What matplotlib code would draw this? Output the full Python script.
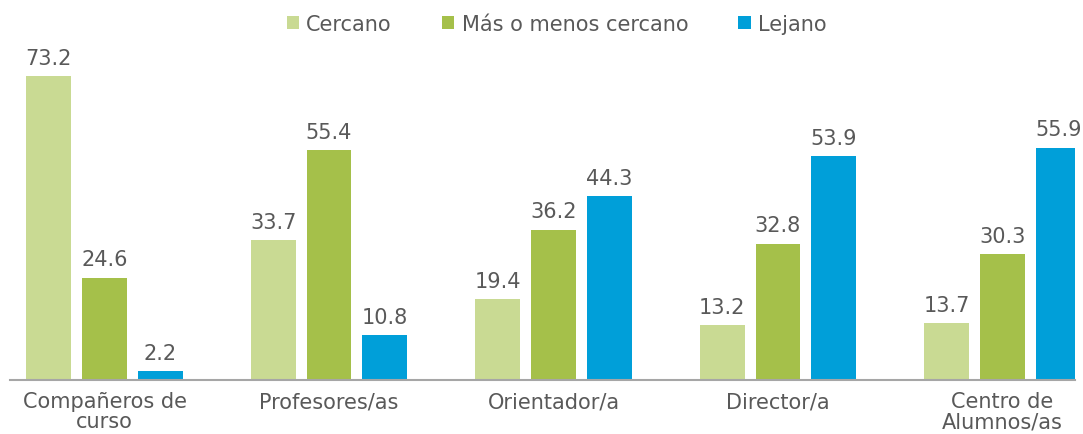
import numpy as np
import matplotlib.pyplot as plt

categorias = ["Compañeros de\ncurso", "Profesores/as", "Orientador/a", "Director/a", "Centro de\nAlumnos/as"]
series = ["Cercano", "Más o menos cercano", "Lejano"]
cercano = [73.2, 33.7, 19.4, 13.2, 13.7]
mas_o_menos = [24.6, 55.4, 36.2, 32.8, 30.3]
lejano = [2.2, 10.8, 44.3, 53.9, 55.9]

colores = ["#c9da93", "#a5c04a", "#009fd9"]
gris = "#595959"

plt.rcParams["font.family"] = ["DejaVu Sans"]

fig = plt.figure(figsize=(10.83, 4.35), dpi=100)
ax = fig.add_axes([10 / 1083, 54 / 435, 1065 / 1083, (381 - 40) / 435])

x = np.arange(len(categorias))
ancho = 0.2
paso = 0.249
for i, (nombre, valores) in enumerate(zip(series, [cercano, mas_o_menos, lejano])):
    barras = ax.bar(x + (i - 1) * paso, valores, width=ancho, color=colores[i], label=nombre)
    for b, v in zip(barras, valores):
        ax.annotate(f"{v:.1f}", (b.get_x() + b.get_width() / 2, v),
                    xytext=(0, 6), textcoords="offset points",
                    ha="center", va="bottom", fontsize=15, color=gris)

ax.set_xlim(-0.421, 4.323)
ax.set_ylim(0, 82.1)
ax.set_xticks(x)
ax.set_xticklabels(categorias, fontsize=15, color=gris, linespacing=1.0)
ax.tick_params(axis="x", length=0, pad=8)
ax.set_yticks([])
for lado in ["top", "right", "left"]:
    ax.spines[lado].set_visible(False)
ax.spines["bottom"].set_color("#a6a6a6")
ax.spines["bottom"].set_linewidth(1.5)

leg = fig.legend(loc="center", bbox_to_anchor=(0.514, 1 - 25 / 435), ncol=3, frameon=False,
                 fontsize=15, handlelength=0.6, handleheight=0.6, handletextpad=0.35,
                 columnspacing=2.4)
for t in leg.get_texts():
    t.set_color(gris)

fig.savefig("out.png", dpi=100)
